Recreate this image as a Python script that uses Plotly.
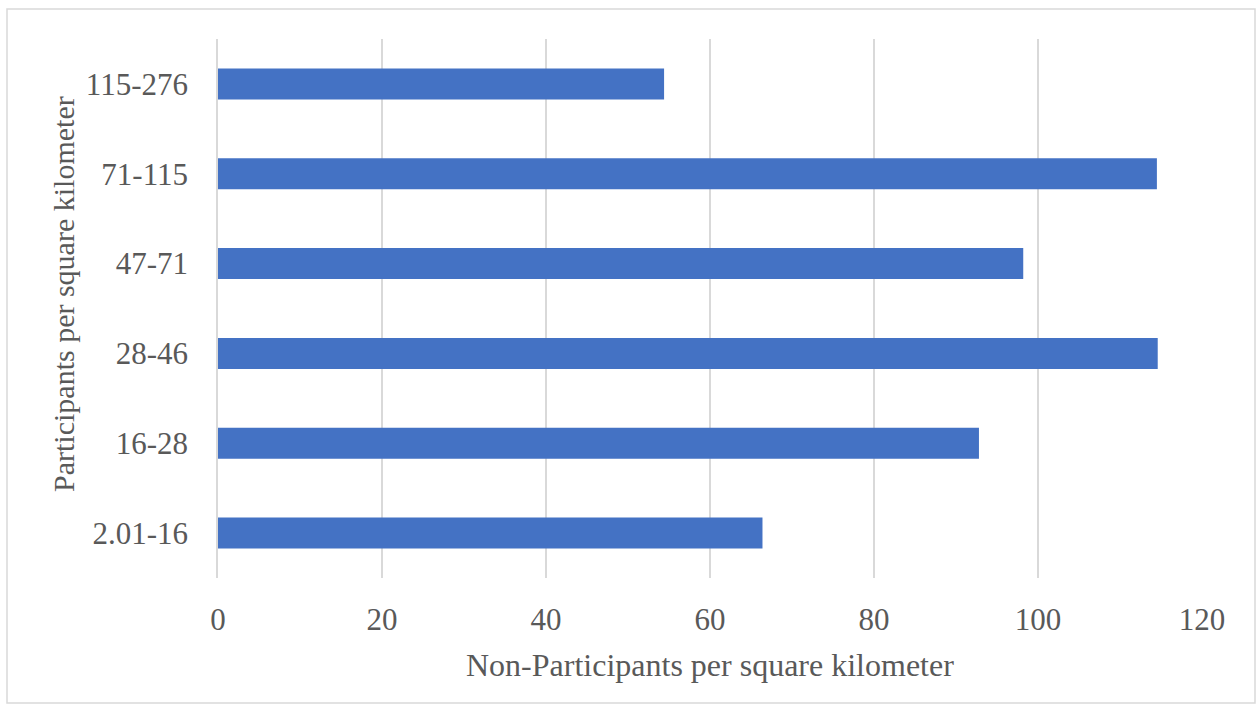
import plotly.graph_objects as go

categories = ["2.01-16", "16-28", "28-46", "47-71", "71-115", "115-276"]
values = [66.4, 92.8, 114.6, 98.2, 114.5, 54.4]
x_ticks = [0, 20, 40, 60, 80, 100, 120]

W, H = 1256, 704
L, R, T, B = 218, 54, 39, 126
pw, ph = W - L - R, H - T - B

font_family = "Liberation Serif, Times New Roman, serif"
text_color = "#595959"
grid_color = "#D9D9D9"

fig = go.Figure(
    go.Bar(
        x=values,
        y=categories,
        orientation="h",
        width=0.345,
        marker=dict(color="#4472C4", line=dict(width=0)),
    )
)

fig.update_layout(
    width=W,
    height=H,
    margin=dict(l=L, r=R, t=T, b=B, autoexpand=False),
    paper_bgcolor="white",
    plot_bgcolor="white",
    showlegend=False,
    font=dict(family=font_family, color=text_color, size=31),
)

fig.update_xaxes(
    range=[0, 120],
    tickvals=x_ticks,
    ticktext=[str(v) for v in x_ticks],
    showgrid=True,
    gridcolor=grid_color,
    gridwidth=1.5,
    zeroline=False,
    showline=False,
    ticks="",
    ticklabelstandoff=20,
    tickfont=dict(size=31, color=text_color, family=font_family),
    automargin=False,
)

fig.update_yaxes(
    categoryorder="array",
    categoryarray=categories,
    range=[-0.5, 5.5],
    showgrid=False,
    zeroline=False,
    showline=True,
    linecolor=grid_color,
    linewidth=1.5,
    ticks="",
    ticklabelstandoff=22,
    tickfont=dict(size=31, color=text_color, family=font_family),
    automargin=False,
)

def px_x(p):
    return (p - L) / pw

def px_y(p):
    return (T + ph - p) / ph

# axis titles
fig.add_annotation(text="Non-Participants per square kilometer",
                   xref="paper", yref="paper", x=0.5, y=px_y(665),
                   xanchor="center", yanchor="middle", showarrow=False,
                   font=dict(size=32, color=text_color, family=font_family))
fig.add_annotation(text="Participants per square kilometer",
                   xref="paper", yref="paper", x=px_x(63), y=px_y(294),
                   xanchor="center", yanchor="middle", showarrow=False, textangle=-90,
                   font=dict(size=30, color=text_color, family=font_family))

# chart-area border
fig.add_shape(type="rect", xref="paper", yref="paper",
              x0=px_x(7), x1=px_x(1255), y0=px_y(703), y1=px_y(9),
              line=dict(color=grid_color, width=1.5), fillcolor="rgba(0,0,0,0)",
              layer="below")

fig.write_html("out.html")
